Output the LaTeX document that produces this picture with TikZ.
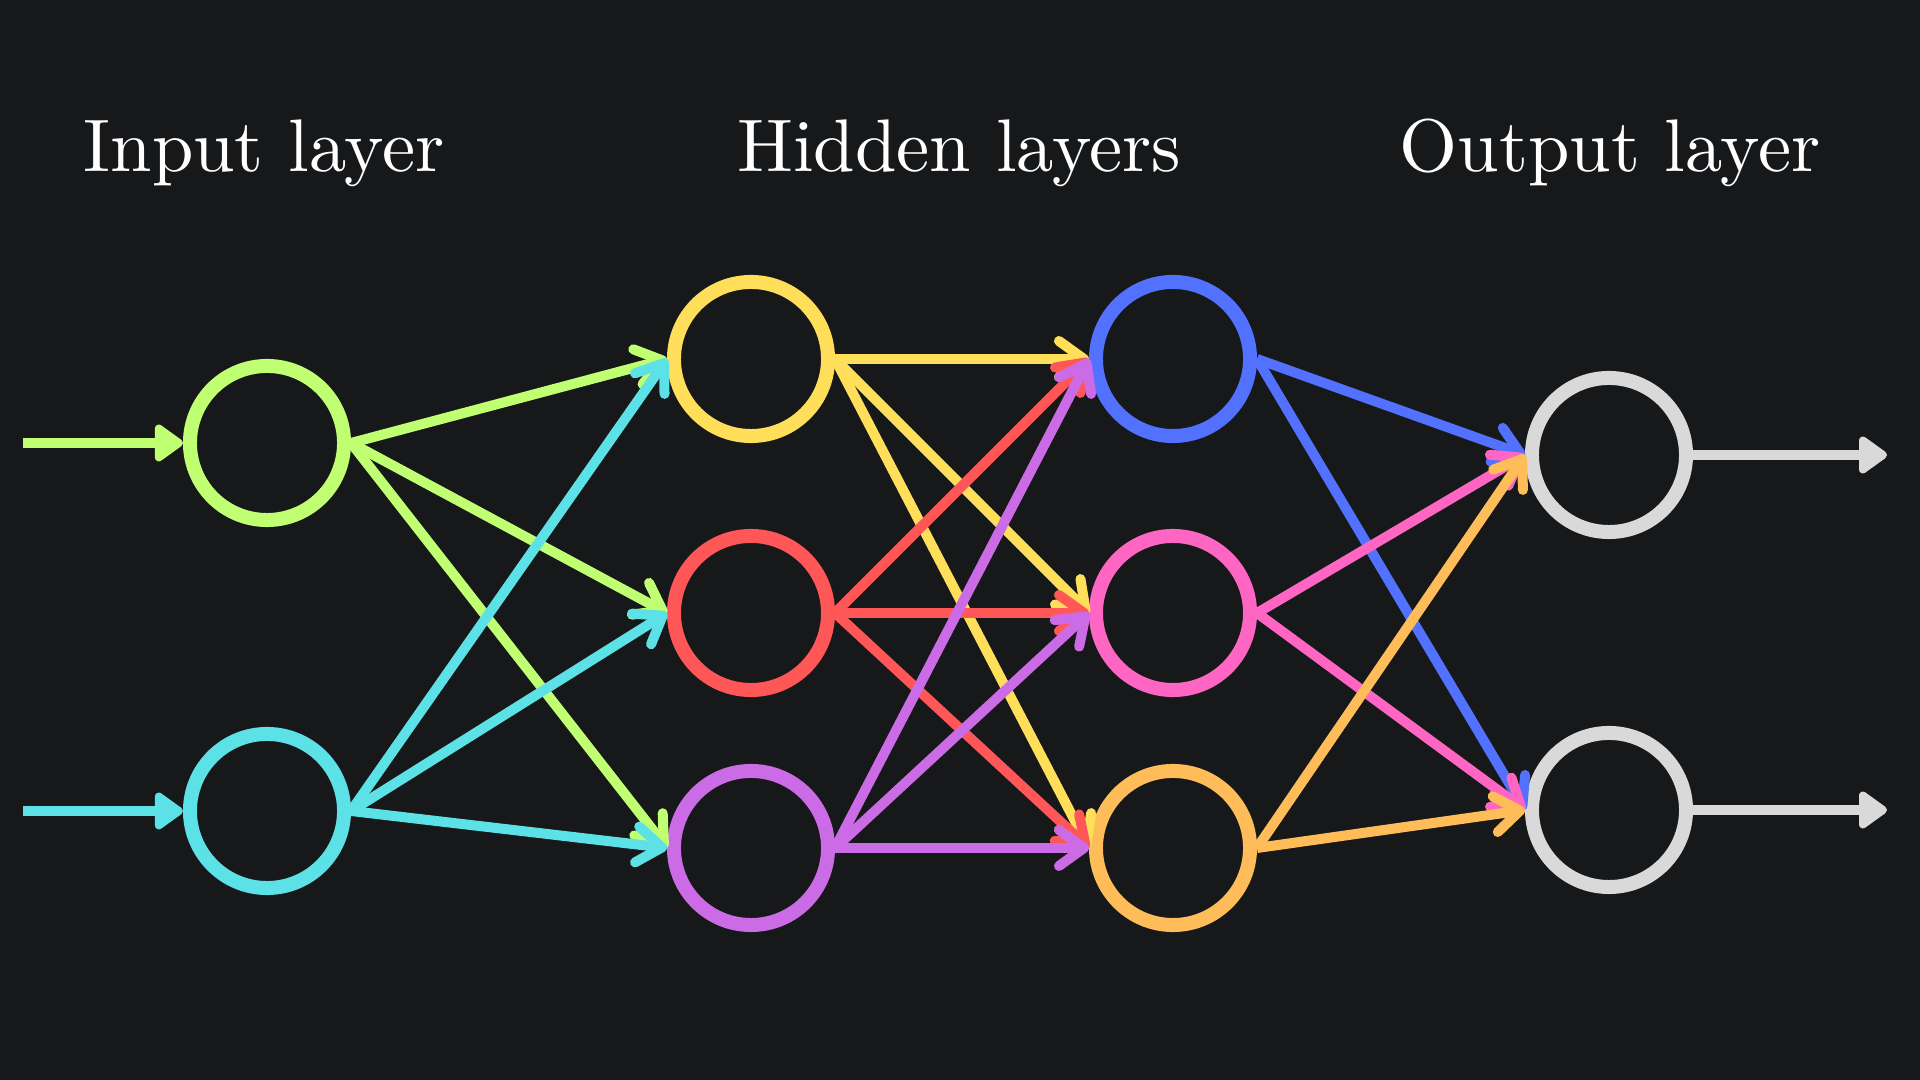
\documentclass[tikz,border=0pt]{standalone}
\usetikzlibrary{arrows.meta}
\definecolor{bg}{HTML}{17181A}
\definecolor{cgreen}{HTML}{C1FF72}
\definecolor{ccyan}{HTML}{5CE1E6}
\definecolor{cyellow}{HTML}{FFDE59}
\definecolor{cred}{HTML}{FF5757}
\definecolor{cpurple}{HTML}{CB6CE6}
\definecolor{cblue}{HTML}{5271FF}
\definecolor{cpink}{HTML}{FF66C4}
\definecolor{corange}{HTML}{FFBD59}
\definecolor{cgrey}{HTML}{D9D9D9}
\newcommand{\bigtitle}[1]{\scalebox{2.12}{\fontsize{10}{12}\selectfont #1}}
\begin{document}
\begin{tikzpicture}[x=0.01cm,y=-0.01cm,
  neuron/.style={circle,draw=#1,line width=0.14cm,minimum size=1.54cm,inner sep=0pt},
  conn/.style={draw=#1,line width=0.1cm,-{Straight Barb[length=0.25cm,width=0.36cm,round]}},
  io/.style={draw=#1,line width=0.1cm,-{Triangle[length=0.31cm,width=0.42cm,round]}},
  title/.style={text=white,anchor=base,inner sep=0pt}]
\fill[bg] (0,0) rectangle (1920,1080);
\useasboundingbox (0,0) rectangle (1920,1080);
% titles
\node[title] (t1) at (264,172) {\bigtitle{Input layer}};
\node[title] (t2) at (959,172) {\bigtitle{Hidden layers}};
\node[title] (t3) at (1610,172) {\bigtitle{Output layer}};
% nodes
\node[neuron=cgreen] (i1) at (267,443) {};
\node[neuron=ccyan] (i2) at (267,811) {};
\node[neuron=cyellow] (a1) at (751,359) {};
\node[neuron=cred] (a2) at (751,613) {};
\node[neuron=cpurple] (a3) at (751,848) {};
\node[neuron=cblue] (b1) at (1173,359) {};
\node[neuron=cpink] (b2) at (1173,613) {};
\node[neuron=corange] (b3) at (1173,848) {};
\node[neuron=cgrey] (o1) at (1609,455) {};
\node[neuron=cgrey] (o2) at (1609,810) {};
% free ends
\coordinate (s1) at (23,443);
\coordinate (s2) at (23,811);
\coordinate (e1) at (1887,455);
\coordinate (e2) at (1887,810);
% input / output arrows
\draw[io=cgreen] (s1) -- (i1.west);
\draw[io=ccyan] (s2) -- (i2.west);
\draw[io=cgrey] (o1.east) -- (e1);
\draw[io=cgrey] (o2.east) -- (e2);
% connections
\foreach \t in {a1,a2,a3} \draw[conn=cgreen] (i1.east) -- (\t.west);
\foreach \t in {a1,a2,a3} \draw[conn=ccyan] (i2.east) -- (\t.west);
\foreach \t in {b1,b2,b3} \draw[conn=cyellow] (a1.east) -- (\t.west);
\foreach \t in {b1,b2,b3} \draw[conn=cred] (a2.east) -- (\t.west);
\foreach \t in {b1,b2,b3} \draw[conn=cpurple] (a3.east) -- (\t.west);
\foreach \t in {o1,o2} \draw[conn=cblue] (b1.east) -- (\t.west);
\foreach \t in {o1,o2} \draw[conn=cpink] (b2.east) -- (\t.west);
\foreach \t in {o1,o2} \draw[conn=corange] (b3.east) -- (\t.west);
\end{tikzpicture}
\end{document}
